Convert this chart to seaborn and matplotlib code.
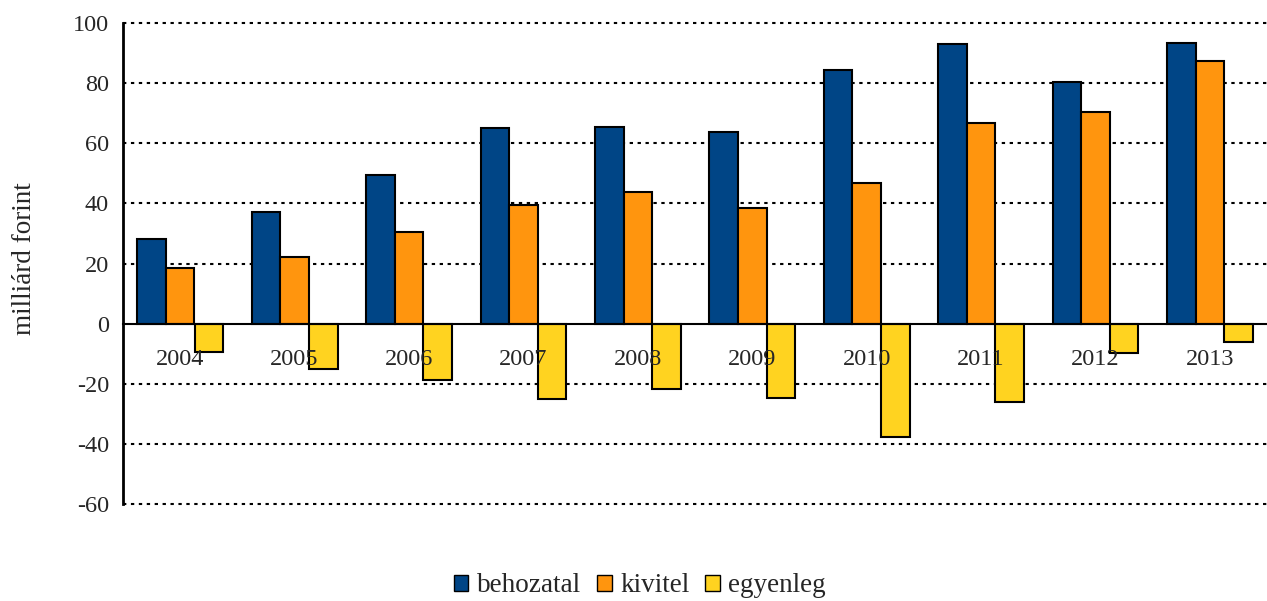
import matplotlib
matplotlib.use("Agg")
import matplotlib.pyplot as plt
import seaborn as sns
import pandas as pd
import numpy as np
from matplotlib.patches import Patch

years = ["2004", "2005", "2006", "2007", "2008", "2009", "2010", "2011", "2012", "2013"]
behozatal = [28.1, 37.1, 49.3, 65.0, 65.3, 63.6, 84.5, 92.9, 80.5, 93.4]
kivitel = [18.5, 22.0, 30.5, 39.3, 43.7, 38.5, 46.7, 66.8, 70.3, 87.4]
egyenleg = [-9.5, -15.0, -18.6, -25.2, -21.6, -24.9, -37.8, -26.1, -9.9, -6.0]
series_names = ["behozatal", "kivitel", "egyenleg"]
colors = ["#004586", "#ff950e", "#ffd320"]
y_ticks = [-60, -40, -20, 0, 20, 40, 60, 80, 100]

sns.set_style("white")
plt.rcParams["font.family"] = ["Liberation Serif", "DejaVu Serif"]

rows = []
for name, vals in zip(series_names, [behozatal, kivitel, egyenleg]):
    for y, v in zip(years, vals):
        rows.append({"year": y, "series": name, "value": v})
df = pd.DataFrame(rows)

fig = plt.figure(figsize=(12.67, 6.01), dpi=100)
ax = fig.add_axes([123 / 1267, 1 - 504 / 601, 1 - 123 / 1267, 481 / 601])

sns.barplot(data=df, x="year", y="value", hue="series", order=years,
            hue_order=series_names, palette=colors, width=0.75, gap=0,
            edgecolor="black", linewidth=1.5, saturation=1, ax=ax, legend=False,
            errorbar=None, zorder=2)

ax.set_ylim(-60, 100)
ax.set_xlim(-0.5, len(years) - 0.5)
ax.set_yticks(y_ticks)
ax.set_yticklabels([str(t) for t in y_ticks], fontsize=17.5)
ax.grid(False)
for t in y_ticks:
    if t != 0:
        ax.axhline(t, linestyle=(0, (1.6, 2.2)), color="black", linewidth=1.5,
                   zorder=0.5, clip_on=False)

for s in ["top", "right"]:
    ax.spines[s].set_visible(False)
ax.spines["left"].set_linewidth(2)
ax.spines["left"].set_color("black")
ax.spines["bottom"].set_position(("data", 0))
ax.spines["bottom"].set_linewidth(1.5)
ax.spines["bottom"].set_color("black")
ax.spines["bottom"].set_zorder(3)
ax.xaxis.set_zorder(4)
ax.yaxis.set_zorder(4)

ax.tick_params(axis="y", direction="out", length=7, width=2, color="black", pad=3)
ax.set_xticks(range(len(years)))
ax.set_xticklabels(years, fontsize=17.5)
ax.tick_params(axis="x", which="major", length=0, pad=18)
ax.set_xticks(np.arange(len(years) + 1) - 0.5, minor=True)
ax.tick_params(axis="x", which="minor", direction="out", length=8, width=2, color="black")

ax.set_xlabel("")
ax.set_ylabel("milliárd forint", fontsize=19.5)
ax.yaxis.set_label_coords(-0.075, 0.511)

handles = [Patch(facecolor=c, edgecolor="black", linewidth=1) for c in colors]
fig.legend(handles, series_names, loc="lower center", bbox_to_anchor=(0.505, -0.036),
           ncol=3, frameon=False, fontsize=19.5, handlelength=0.55, handleheight=0.55,
           handletextpad=0.3, columnspacing=0.6)

fig.savefig("out.png", dpi=100)
